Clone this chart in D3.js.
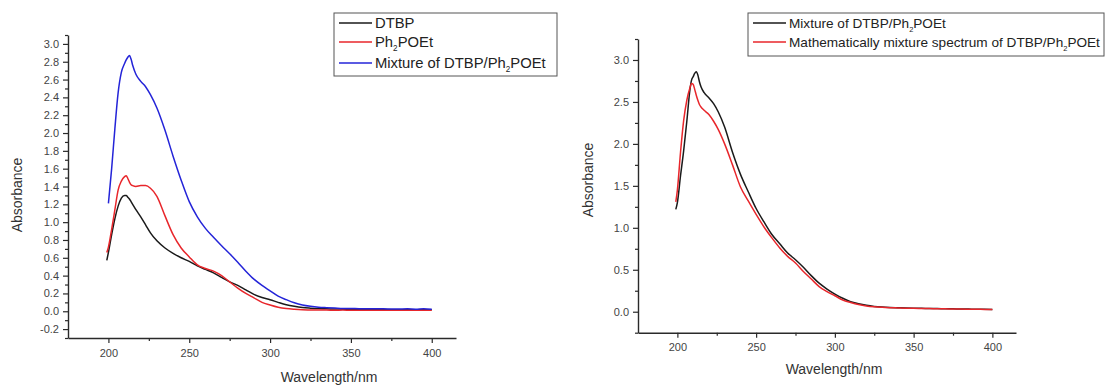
<!DOCTYPE html>
<html>
<head>
<meta charset="utf-8">
<script src="https://cdn.jsdelivr.net/npm/d3@7/dist/d3.min.js"></script>
<style>
  html, body { margin: 0; padding: 0; background: #fff; }
  svg { display: block; }
  text { font-family: "Liberation Sans", Arial, sans-serif; }
</style>
</head>
<body>
<svg id="chart" width="1110" height="386"></svg>
<script>
// ---------- Panel A: individual spectra and the measured mixture ----------
const wavelengthsA = [199,200,202,204,206,208,210,211,212,213,214,215,217,220,223,226,230,235,240,245,250,255,260,265,270,275,280,285,290,295,300,305,310,315,320,325,330,335,340,345,350,355,360,365,370,375,380,385,390,395,400];
const dtbp = [0.57,0.66,0.86,1.04,1.18,1.27,1.30,1.30,1.28,1.26,1.23,1.20,1.14,1.06,0.97,0.88,0.79,0.71,0.65,0.60,0.56,0.51,0.47,0.43,0.38,0.33,0.29,0.24,0.19,0.155,0.13,0.10,0.073,0.055,0.042,0.035,0.030,0.028,0.025,0.024,0.022,0.021,0.020,0.020,0.019,0.018,0.018,0.017,0.017,0.016,0.016];
const ph2poet = [0.66,0.72,0.92,1.14,1.36,1.46,1.51,1.52,1.49,1.45,1.42,1.41,1.40,1.41,1.41,1.38,1.29,1.07,0.86,0.71,0.61,0.52,0.48,0.45,0.40,0.33,0.26,0.20,0.15,0.10,0.07,0.045,0.030,0.022,0.017,0.015,0.013,0.013,0.012,0.013,0.011,0.012,0.011,0.012,0.010,0.012,0.011,0.010,0.012,0.011,0.010];
const mixtureA = [null,1.21,1.60,2.05,2.45,2.68,2.78,2.82,2.85,2.87,2.83,2.76,2.66,2.58,2.52,2.43,2.28,2.03,1.74,1.47,1.23,1.06,0.93,0.83,0.735,0.645,0.55,0.45,0.36,0.29,0.23,0.17,0.13,0.095,0.07,0.055,0.045,0.040,0.036,0.032,0.031,0.029,0.028,0.027,0.028,0.025,0.026,0.027,0.024,0.028,0.022];
const yTicksA = [-0.2,0.0,0.2,0.4,0.6,0.8,1.0,1.2,1.4,1.6,1.8,2.0,2.2,2.4,2.6,2.8,3.0];
const legendA = ["DTBP", "Ph_{2}POEt", "Mixture of DTBP/Ph_{2}POEt"];

// ---------- Panel B: measured vs. calculated mixture ----------
const wavelengthsB = [199,200,202,204,206,208,209,210,211,212,213,214,215,217,220,223,226,230,235,240,245,250,255,260,265,270,275,280,285,290,295,300,305,310,315,320,325,330,335,340,345,350,355,360,365,370,375,380,385,390,395,400];
const mixtureB = [1.22,1.30,1.62,1.92,2.27,2.65,2.76,2.80,2.84,2.86,2.82,2.74,2.68,2.61,2.55,2.48,2.38,2.20,1.90,1.64,1.43,1.23,1.07,0.92,0.81,0.70,0.62,0.53,0.43,0.34,0.27,0.21,0.16,0.12,0.095,0.076,0.063,0.055,0.050,0.047,0.044,0.042,0.041,0.038,0.037,0.035,0.034,0.032,0.031,0.030,0.028,0.027];
const mathMixture = [1.31,1.45,1.90,2.28,2.52,2.67,2.72,2.71,2.65,2.58,2.52,2.47,2.44,2.40,2.35,2.27,2.17,2.00,1.75,1.49,1.32,1.16,1.01,0.88,0.76,0.66,0.58,0.48,0.39,0.30,0.24,0.19,0.14,0.11,0.085,0.068,0.058,0.052,0.048,0.045,0.042,0.041,0.039,0.037,0.036,0.034,0.033,0.031,0.030,0.029,0.027,0.026];
const yTicksB = [0.0,0.5,1.0,1.5,2.0,2.5,3.0];
const legendB = ["Mixture of DTBP/Ph_{2}POEt", "Mathematically mixture spectrum of DTBP/Ph_{2}POEt"];

const xTicks = [200,250,300,350,400];
const xMinorTicks = [225,275,325,375];

const BLACK = "#1a1a1a", RED = "#e8262b", BLUE = "#2424d8";
const AXIS = "#2a2a2a", TEXT = "#444";

const svg = d3.select("#chart");
svg.append("rect").attr("width", 1110).attr("height", 386).attr("fill", "#fff");

function fmt(v) {
  return v.toFixed(1).replace("\u2212", "-");
}

// Append text with "_{n}" segments rendered as small subscripts
function richText(sel, str, size) {
  const parts = str.split(/(_\{[^}]*\})/).filter(s => s.length);
  let shift = 0;
  parts.forEach(p => {
    const m = p.match(/^_\{(.*)\}$/);
    if (m) {
      sel.append("tspan").attr("dy", 4).attr("font-size", size * 0.55).text(m[1]);
      shift = -4;
    } else {
      sel.append("tspan").attr("dy", shift).text(p);
      shift = 0;
    }
  });
}

function panel(cfg) {
  const x = d3.scaleLinear().domain([175, 415]).range(cfg.xRange);
  const y = d3.scaleLinear().domain(cfg.yDomain).range(cfg.yRange);
  const g = svg.append("g");

  // x axis: major + minor ticks
  g.append("g").attr("transform", `translate(0,${cfg.yRange[0]})`)
    .call(d3.axisBottom(x).tickValues(xTicks).tickSize(5).tickSizeOuter(0).tickPadding(6).tickFormat(d3.format("d")));
  g.append("g").attr("transform", `translate(0,${cfg.yRange[0]})`)
    .call(d3.axisBottom(x).tickValues(xMinorTicks).tickSize(3).tickSizeOuter(0).tickFormat(""))
    .select(".domain").remove();

  // y axis: major + minor ticks
  g.append("g").attr("transform", `translate(${cfg.xRange[0]},0)`)
    .call(d3.axisLeft(y).tickValues(cfg.yTicks).tickSize(5).tickSizeOuter(0).tickPadding(4).tickFormat(fmt));
  g.append("g").attr("transform", `translate(${cfg.xRange[0]},0)`)
    .call(d3.axisLeft(y).tickValues(cfg.yMinor).tickSize(3).tickSizeOuter(0).tickFormat(""))
    .select(".domain").remove();

  g.selectAll(".domain").attr("stroke", AXIS).attr("stroke-width", 1.4);
  g.selectAll(".tick line").attr("stroke", AXIS).attr("stroke-width", 1.2);
  g.selectAll(".tick text").attr("fill", TEXT).attr("font-size", 11)
    .attr("font-family", "'Liberation Sans', Arial, sans-serif");

  // axis titles
  g.append("text").attr("x", cfg.xTitle[0]).attr("y", cfg.xTitle[1])
    .attr("text-anchor", "middle").attr("font-size", 14).attr("fill", "#333")
    .text("Wavelength/nm");
  g.append("text").attr("transform", `translate(${cfg.yTitle[0]},${cfg.yTitle[1]}) rotate(-90)`)
    .attr("text-anchor", "middle").attr("font-size", 14).attr("fill", "#333")
    .text("Absorbance");

  // spectra
  cfg.series.forEach(s => {
    const line = d3.line()
      .defined((d, i) => s.values[i] != null)
      .x((d, i) => x(cfg.wl[i]))
      .y((d, i) => y(s.values[i]))
      .curve(d3.curveMonotoneX);
    g.append("path").datum(s.values).attr("d", line)
      .attr("fill", "none").attr("stroke", s.color).attr("stroke-width", 1.5)
      .attr("stroke-linejoin", "round");
  });

  // legend
  const lg = g.append("g");
  lg.append("rect").attr("x", cfg.legend.x).attr("y", cfg.legend.y)
    .attr("width", cfg.legend.w).attr("height", cfg.legend.h)
    .attr("fill", "#fff").attr("stroke", "#555").attr("stroke-width", 1);
  cfg.series.forEach((s, i) => {
    const cy = cfg.legend.rows[i];
    lg.append("line").attr("x1", cfg.legend.x + 5).attr("x2", cfg.legend.x + 38)
      .attr("y1", cy).attr("y2", cy).attr("stroke", s.color).attr("stroke-width", 1.5);
    const t = lg.append("text").attr("x", cfg.legend.x + 41).attr("y", cy + 5)
      .attr("font-size", cfg.legend.font).attr("fill", "#222");
    richText(t, s.label, cfg.legend.font);
  });
}

panel({
  wl: wavelengthsA,
  xRange: [68, 456],
  yDomain: [-0.3, 3.1],
  yRange: [338, 35],
  yTicks: yTicksA,
  yMinor: d3.range(-0.3, 3.15, 0.2).map(v => +v.toFixed(1)),
  xTitle: [329, 382],
  yTitle: [22, 195],
  series: [
    { values: dtbp, color: BLACK, label: legendA[0] },
    { values: ph2poet, color: RED, label: legendA[1] },
    { values: mixtureA, color: BLUE, label: legendA[2] }
  ],
  legend: { x: 334, y: 13, w: 223, h: 63, rows: [23, 42, 63], font: 14.8 }
});

panel({
  wl: wavelengthsB,
  xRange: [638, 1016],
  yDomain: [-0.25, 3.25],
  yRange: [332.7, 39],
  yTicks: yTicksB,
  yMinor: [-0.25,0.25,0.75,1.25,1.75,2.25,2.75,3.25],
  xTitle: [834, 374],
  yTitle: [593, 180],
  series: [
    { values: mixtureB, color: BLACK, label: legendB[0] },
    { values: mathMixture, color: RED, label: legendB[1] }
  ],
  legend: { x: 748, y: 13, w: 356, h: 43, rows: [23, 42], font: 13.6 }
});
</script>
</body>
</html>
